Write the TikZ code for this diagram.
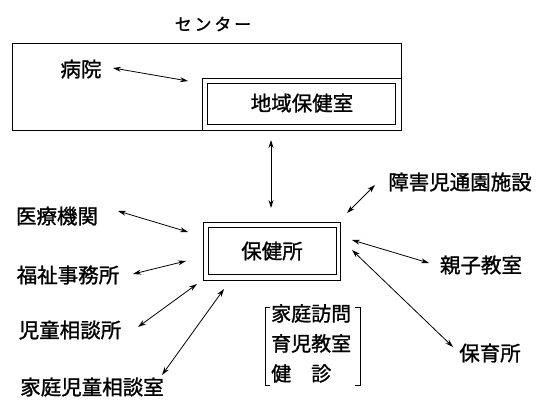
\documentclass[tikz,border=0pt]{standalone}
\usepackage{fontspec}
\newfontfamily\jp[FakeBold=1.2]{Noto Sans CJK JP}
\usetikzlibrary{arrows.meta}
\begin{document}
\begin{tikzpicture}[x=1pt,y=-1pt,
  lbl/.style={inner sep=0pt,font=\jp\fontsize{20.5}{23}\selectfont},
  frame/.style={draw,line width=0.9pt},
  link/.style={line width=0.8pt,{Stealth[length=8pt,width=5pt]}-{Stealth[length=8pt,width=5pt]}}]
\useasboundingbox (0,0) rectangle (542,405);
% centre box
\node[lbl,font=\jp\fontsize{17}{20}\selectfont] (center) at (213,24) {セ\,ン\,タ\,ー};
\draw[frame] (12,43) rectangle (401,130);
\draw[frame] (202,78) rectangle (401,130);
\draw[frame] (207,83) rectangle (395,124);
\node[lbl] (chiiki) at (302,103) {地域保健室};
\node[lbl] (byoin) at (81,69) {病院};
% hokenjo
\draw[frame] (203,222) rectangle (340,280);
\draw[frame] (208,227) rectangle (336,274);
\node[lbl] (hoken) at (272,251) {保健所};
% labels
\node[lbl] (iryo) at (57,216) {医療機関};
\node[lbl] (fukushi) at (68,275) {福祉事務所};
\node[lbl] (jido) at (70,330) {児童相談所};
\node[lbl] (katei) at (92,387) {家庭児童相談室};
\node[lbl] (shogai) at (460,182) {障害児通園施設};
\node[lbl] (oyako) at (481,265) {親子教室};
\node[lbl] (hoiku) at (490,353) {保育所};
\node[lbl,anchor=north west,align=left,font=\jp\fontsize{20}{30}\selectfont] (act) at (271,304) {家庭訪問\\育児教室\\健　診};
\draw[line width=0.8pt] (270,307) -- (265,307) -- (265,385) -- (270,385);
\draw[line width=0.8pt] (355,307) -- (360,307) -- (360,385) -- (355,385);
% arrow end points
\coordinate (b1) at (113,68); \coordinate (b2) at (188,81);
\coordinate (v1) at (271,140); \coordinate (v2) at (271,208);
\coordinate (i1) at (118,211); \coordinate (i2) at (188,232);
\coordinate (f1) at (133,274); \coordinate (f2) at (186,261);
\coordinate (j1) at (138,327); \coordinate (j2) at (197,284);
\coordinate (k1) at (162,375); \coordinate (k2) at (224,289);
\coordinate (s1) at (375,185); \coordinate (s2) at (347,213);
\coordinate (o1) at (352,240); \coordinate (o2) at (429,263);
\coordinate (h1) at (352,250); \coordinate (h2) at (453,347);
\draw[link] (b1) -- (b2);
\draw[link] (v1) -- (v2);
\draw[link] (i1) -- (i2);
\draw[link] (f1) -- (f2);
\draw[link] (j1) -- (j2);
\draw[link] (k1) -- (k2);
\draw[link] (s1) -- (s2);
\draw[link] (o1) -- (o2);
\draw[link] (h1) -- (h2);
\end{tikzpicture}
\end{document}
